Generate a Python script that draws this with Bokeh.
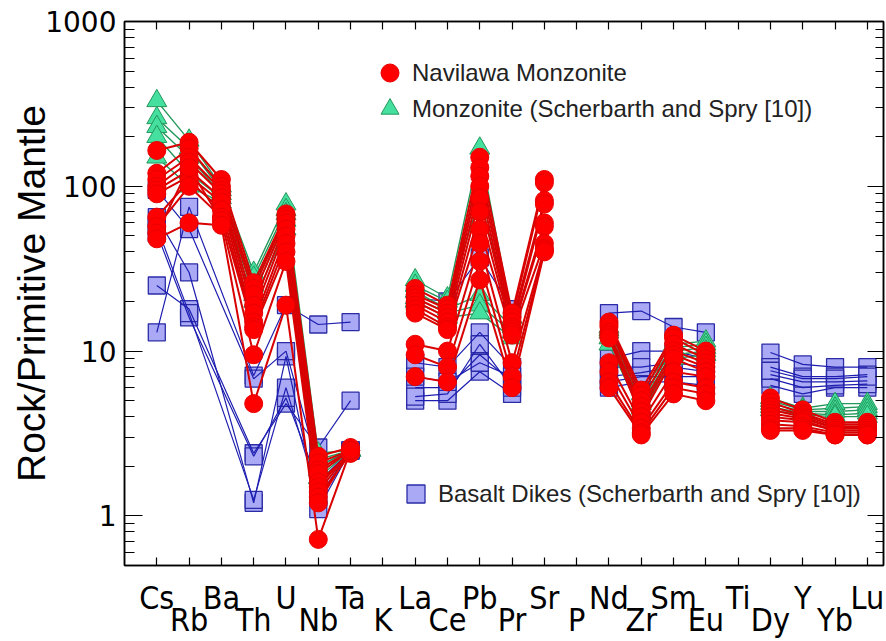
from bokeh.plotting import figure
from bokeh.models import (Range1d, LinearAxis, LogAxis, FixedTicker, Legend, LegendItem,
                          ColumnDataSource, BasicTickFormatter, CustomJSTickFormatter)
from bokeh.embed import file_html
from bokeh.resources import INLINE

# ---------------- data ----------------
elements = ["Cs", "Rb", "Ba", "Th", "U", "Nb", "Ta", "K", "La", "Ce", "Pb", "Pr",
            "Sr", "P", "Nd", "Zr", "Sm", "Eu", "Ti", "Dy", "Y", "Yb", "Lu"]
# groups of consecutive elements joined by lines (K, P and Ti are not analysed)
segments = [(0, 6), (8, 12), (14, 17), (19, 22)]

y_major = [1, 10, 100, 1000]
y_minor = [0.5, 0.6, 0.7, 0.8, 0.9, 2, 3, 4, 5, 6, 7, 8, 9,
           20, 30, 40, 50, 60, 70, 80, 90, 200, 300, 400, 500, 600, 700, 800, 900]

N = None
#            Cs   Rb   Ba   Th   U   Nb   Ta  K   La  Ce   Pb  Pr   Sr  P  Nd   Zr   Sm   Eu  Ti  Dy   Y    Yb   Lu
navilawa_1 = [165, 185, 110, 26, 68, 2.3, 2.6, N, 24, 19, 150, 17, 110, N, 15, 5.8, 12.5, 10, N, 5.2, 4.4, 3.7, 3.7]
navilawa_2 = [120, 170, 100, 24, 66, 2.1, 2.5, N, 22, 18, 130, 16, 105, N, 14.5, 5.4, 12, 9.5, N, 4.9, 4.2, 3.6, 3.6]
navilawa_3 = [110, 150, 95, 22, 63, 1.9, 2.5, N, 21, 17, 115, 15, 82, N, 14, 5.0, 11, 9, N, 4.6, 4.1, 3.5, 3.5]
navilawa_4 = [100, 140, 90, 19, 60, 1.8, 2.5, N, 20, 16, 100, 14, 78, N, 13, 4.6, 10, 8.5, N, 4.4, 4.0, 3.4, 3.5]
navilawa_5 = [95, 125, 85, 17, 55, 1.6, 2.4, N, 19, 15, 85, 13.5, 60, N, 12.5, 4.3, 9.5, 8, N, 4.2, 3.9, 3.4, 3.4]
navilawa_6 = [90, 115, 80, 15, 50, 1.5, 2.5, N, 18, 14, 70, 13, 57, N, 12, 4.0, 9, 7.5, N, 4.0, 3.8, 3.3, 3.3]
navilawa_7 = [65, 108, 72, 14, 45, 1.4, 2.5, N, 17, 13.5, 55, 12.5, 45, N, 8.5, 3.7, 7.5, 7, N, 3.8, 3.7, 3.3, 3.3]
navilawa_8 = [57, 100, 65, 13.5, 40, 1.3, 2.4, N, 11, 10, 45, 8.5, 42, N, 7.5, 3.4, 6.5, 6, N, 3.6, 3.5, 3.2, 3.2]
navilawa_9 = [52, 130, 62, 9.5, 35, 1.2, 2.5, N, 9.5, 8, 35, 7, 41, N, 6.5, 3.2, 6, 5.5, N, 3.4, 3.4, 3.1, 3.1]
navilawa_10 = [48, 60, 58, 4.8, 19, 0.72, 2.5, N, 7, 6.5, 27, 6, 40, N, 6, 3.1, 5.5, 5, N, 3.3, 3.3, 3.1, 3.1]

monzonite_1 = [330, 190, 100, 30, 78, 2.4, 2.5, N, 27, 21, 170, 16, N, N, 14, 5.5, 11, 11.5, N, 5.2, 4.5, 4.8, 4.8]
monzonite_2 = [260, 170, 95, 28, 72, 2.2, 2.5, N, 25, 20, 85, 15, N, N, 13.5, 5.0, 10.5, 11, N, 5.0, 4.4, 4.5, 4.6]
monzonite_3 = [230, 150, 90, 25, 68, 2.0, 2.5, N, 23, 18, 22, 14, N, N, 13, 4.8, 10, 10.5, N, 4.8, 4.3, 4.3, 4.4]
monzonite_4 = [200, 120, 85, 22, 62, 1.9, 2.5, N, 21, 17, 19, 13, N, N, 12, 4.5, 9.5, 10, N, 4.6, 4.2, 4.1, 4.2]
monzonite_5 = [150, 100, 80, 20, 55, 1.7, 2.5, N, 20, 16, 17, 12, N, N, 11, 4.2, 9, 9.5, N, 4.4, 4.1, 4.0, 4.0]

basalt_1 = [13, 75, N, 7.1, 19, 14.5, 15, N, 21, 20, 37, 18, N, N, 17, 17.5, 14, 13, N, 9.8, 8.3, 8, 8]
basalt_2 = [25, 18, N, 2.4, 4.8, 2.6, 5, N, 8.5, 8, 13, 8, N, N, 9, 10, 10, 9, N, 8, 7, 7, 7.2]
basalt_3 = [65, 30, N, 1.2, 9.3, 1.1, 2.5, N, 5, 5, 7.5, 5.5, N, N, 6, 6.5, 6.5, 6.2, N, 6.2, 5.5, 6, 6]
basalt_4 = [52, 16, N, 2.3, 5.2, 1.6, 2.5, N, 6, 6, 9.5, 6.5, N, N, 7, 7.4, 8, 7.5, N, 7.2, 6.5, 6.5, 6.6]
basalt_5 = [57, 17, N, 1.25, 6, 1.3, 2.5, N, 5.3, 5.5, 11, 6, N, N, 6.5, 7, 7, 7, N, 6.8, 6, 6.2, 6.3]
basalt_6 = [95, 55, N, 6.8, 10, 2.0, 2.5, N, 7, 6.5, 8.5, 7, N, N, 8, 8, 8.5, 8, N, 7.6, 6.8, 6.8, 7]

navilawa = [navilawa_1, navilawa_2, navilawa_3, navilawa_4, navilawa_5,
            navilawa_6, navilawa_7, navilawa_8, navilawa_9, navilawa_10]
monzonite = [monzonite_1, monzonite_2, monzonite_3, monzonite_4, monzonite_5]
basalt = [basalt_1, basalt_2, basalt_3, basalt_4, basalt_5, basalt_6]


def build(rows):
    xs, ys, px, py = [], [], [], []
    for row in rows:
        for a, b in segments:
            idx = [i for i in range(a, b + 1) if row[i] is not None]
            if len(idx) > 1:
                xs.append(idx)
                ys.append([row[i] for i in idx])
            for i in idx:
                px.append(i)
                py.append(row[i])
    return ColumnDataSource(dict(xs=xs, ys=ys)), ColumnDataSource(dict(x=px, y=py))


# ---------------- figure ----------------
p = figure(width=886, height=641, y_axis_type="log",
           x_range=Range1d(-1, 22.5), y_range=Range1d(0.5, 1000),
           output_backend="svg", toolbar_location=None,
           min_border_left=124, min_border_right=3, min_border_top=21, min_border_bottom=76)
p.grid.visible = False
p.outline_line_color = "black"
p.outline_line_width = 1.5
p.background_fill_color = "white"
p.border_fill_color = "white"

# basalt dikes
bl, bp = build(basalt)
sq = p.scatter("x", "y", source=bp, marker="square", size=17,
               fill_color="#a9a9f5", line_color="#2b2ba6", line_width=1.3)
p.multi_line("xs", "ys", source=bl, line_color="#1e1eb0", line_width=1.2)

# monzonite (Scherbarth and Spry)
gl, gp = build(monzonite)
p.multi_line("xs", "ys", source=gl, line_color="#23985a", line_width=1.4)
tri = p.scatter("x", "y", source=gp, marker="triangle", size=20,
                fill_color="#45e0a0", line_color="#23985a", line_width=1.0)

# Navilawa monzonite
rl, rp = build(navilawa)
p.multi_line("xs", "ys", source=rl, line_color="#d80000", line_width=2.0)
circ = p.scatter("x", "y", source=rp, marker="circle", size=18,
                 fill_color="#ff0000", line_color="#e80000", line_width=1.0)

# ---------------- axes ----------------
label_font = "'DejaVu Sans Condensed', 'DejaVu Sans'"
all_ticks = list(range(len(elements)))
odd_ticks = all_ticks[1::2]

xa = p.xaxis[0]
xa.ticker = FixedTicker(ticks=all_ticks)
xa.major_label_overrides = {i: (elements[i] if i % 2 == 0 else "") for i in all_ticks}
xa.major_tick_in = 8
xa.major_tick_out = 0
xa.minor_tick_line_color = None
xa.axis_line_width = 1.5
xa.major_tick_line_width = 1.2
xa.major_label_standoff = 13
xa.major_label_text_font = label_font
xa.major_label_text_font_size = "32px"
xa.major_label_text_color = "black"

xb = LinearAxis(ticker=FixedTicker(ticks=odd_ticks),
                major_label_overrides={i: elements[i] for i in odd_ticks})
xb.axis_line_color = None
xb.major_tick_line_color = None
xb.minor_tick_line_color = None
xb.major_tick_in = 0
xb.major_tick_out = 0
xb.major_label_standoff = -19
xb.major_label_text_font = label_font
xb.major_label_text_font_size = "32px"
xb.major_label_text_color = "black"
p.add_layout(xb, "below")

xt = LinearAxis(ticker=FixedTicker(ticks=all_ticks),
                formatter=CustomJSTickFormatter(code="return ''"))
xt.major_tick_in = 8
xt.major_tick_out = 0
xt.minor_tick_line_color = None
xt.axis_line_width = 1.5
xt.major_tick_line_width = 1.2
xt.major_label_standoff = 0
xt.major_label_text_font_size = "1px"
p.add_layout(xt, "above")

ya = p.yaxis[0]
ya.ticker = FixedTicker(ticks=y_major, minor_ticks=y_minor)
ya.formatter = BasicTickFormatter()
ya.major_tick_in = 18
ya.major_tick_out = 0
ya.minor_tick_in = 10
ya.minor_tick_out = 0
ya.axis_line_width = 1.5
ya.major_tick_line_width = 1.2
ya.minor_tick_line_width = 1.2
ya.major_label_standoff = 8
ya.major_label_text_font = "DejaVu Sans"
ya.major_label_text_font_size = "28px"
ya.major_label_text_color = "black"
ya.axis_label = "Rock/Primitive Mantle"
ya.axis_label_text_font = "Liberation Sans"
ya.axis_label_text_font_size = "39px"
ya.axis_label_text_font_style = "normal"
ya.axis_label_text_color = "black"
ya.axis_label_standoff = -11

yr = LogAxis(ticker=FixedTicker(ticks=y_major, minor_ticks=y_minor),
             formatter=CustomJSTickFormatter(code="return ''"))
yr.major_tick_in = 16
yr.major_tick_out = 0
yr.minor_tick_in = 8
yr.minor_tick_out = 0
yr.axis_line_width = 1.5
yr.major_tick_line_width = 1.2
yr.minor_tick_line_width = 1.2
yr.major_label_standoff = 0
yr.major_label_text_font_size = "1px"
p.add_layout(yr, "right")

# ---------------- legends ----------------
legends = [
    Legend(items=[LegendItem(label="Navilawa Monzonite", renderers=[circ])], location=(243, 470)),
    Legend(items=[LegendItem(label="Monzonite (Scherbarth and Spry [10])", renderers=[tri])], location=(243, 434)),
    Legend(items=[LegendItem(label="Basalt Dikes (Scherbarth and Spry [10])", renderers=[sq])], location=(269, 49)),
]
for lg in legends:
    lg.glyph_width = 45
    lg.glyph_height = 45
    lg.label_standoff = 0
    lg.spacing = 0
    lg.padding = 0
    lg.margin = 0
    lg.border_line_color = None
    lg.background_fill_alpha = 0
    lg.label_text_font = "Liberation Sans"
    lg.label_text_font_size = "24px"
    lg.label_text_color = "#222222"
    p.add_layout(lg, "center")

open("out.html", "w").write(file_html(p, INLINE))
